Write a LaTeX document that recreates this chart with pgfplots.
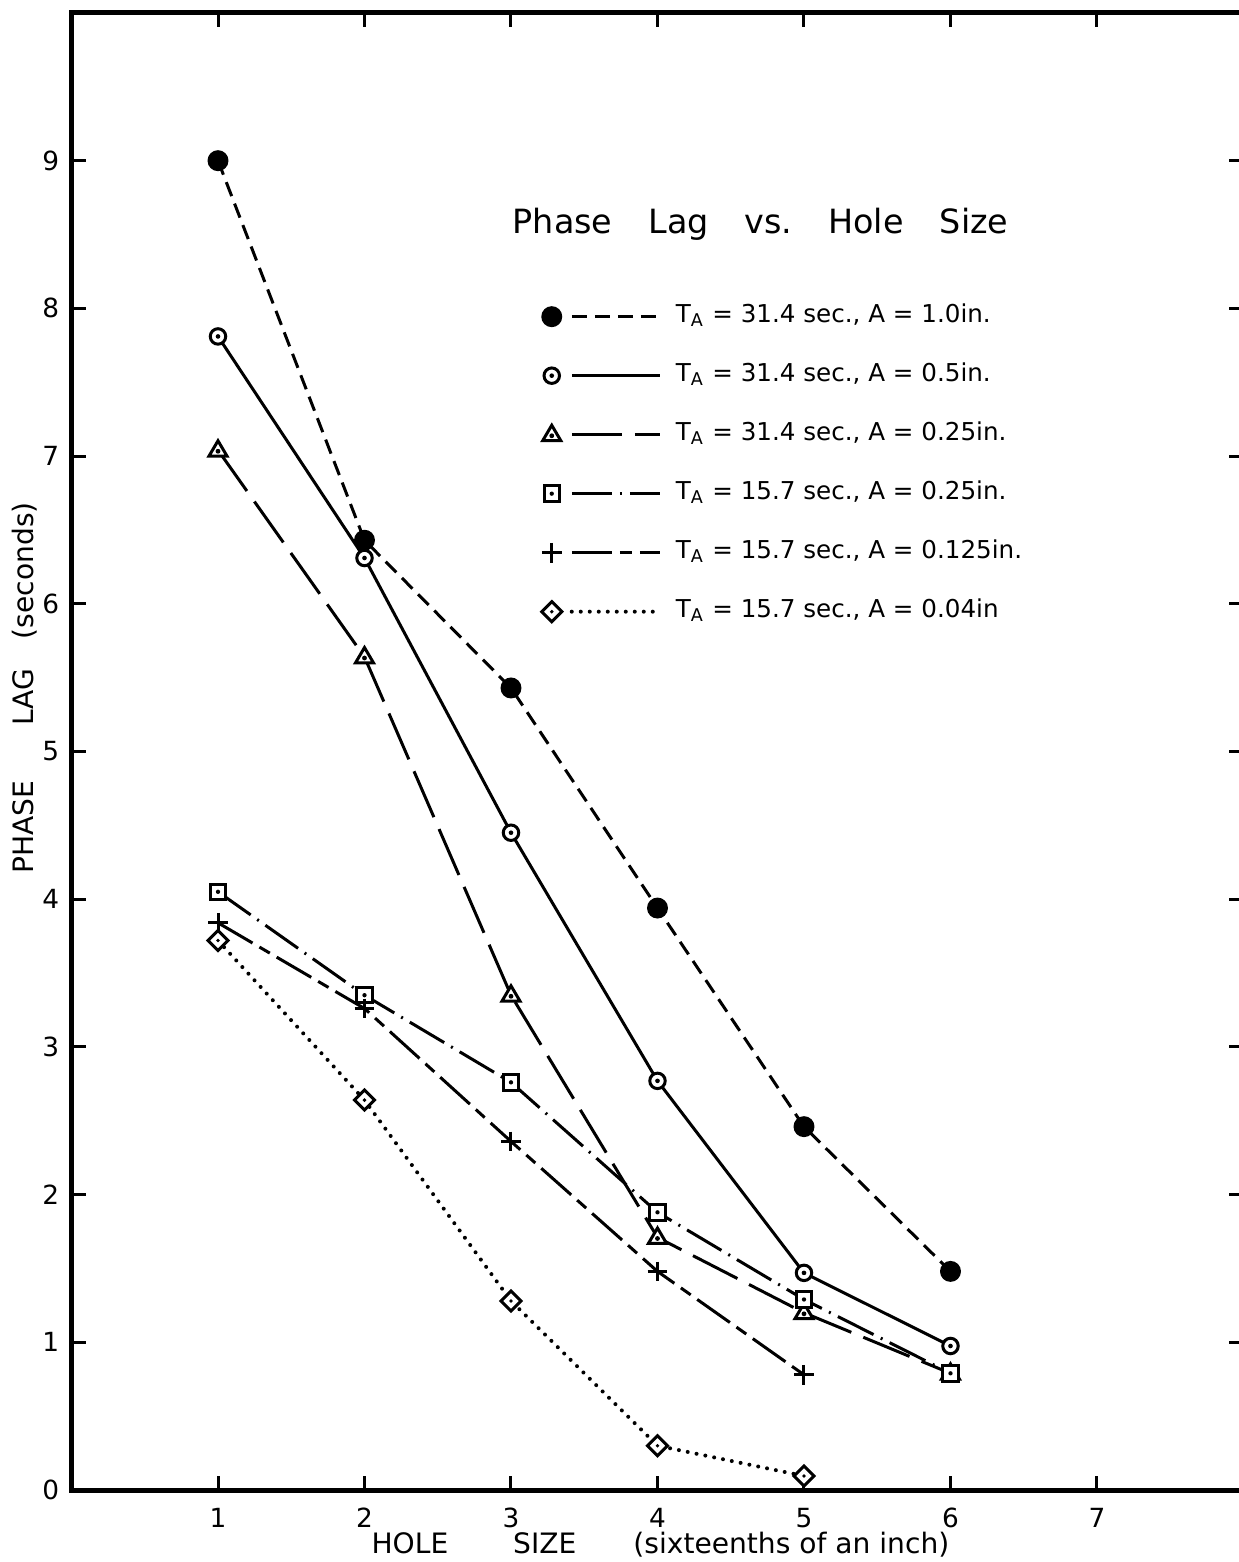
\documentclass[border=0pt]{standalone}
\usepackage{pgfplots}
\pgfplotsset{compat=1.18}
\usepackage{fontspec}
\setmainfont{DejaVu Sans}
\setsansfont{DejaVu Sans}

\pgfdeclareplotmark{cdot}{%
  \pgfpathcircle{\pgfpointorigin}{\pgfplotmarksize}%
  \pgfusepathqfillstroke
  \begin{pgfscope}\pgfsetfillcolor{black}%
  \pgfpathcircle{\pgfpointorigin}{0.3\pgfplotmarksize}%
  \pgfusepathqfill\end{pgfscope}}
\pgfdeclareplotmark{tdot}{%
  \pgfpathmoveto{\pgfpoint{0pt}{1.05\pgfplotmarksize}}%
  \pgfpathlineto{\pgfpoint{-1\pgfplotmarksize}{-0.65\pgfplotmarksize}}%
  \pgfpathlineto{\pgfpoint{1\pgfplotmarksize}{-0.65\pgfplotmarksize}}%
  \pgfpathclose
  \pgfusepathqfillstroke
  \begin{pgfscope}\pgfsetfillcolor{black}%
  \pgfpathcircle{\pgfpoint{0pt}{-0.12\pgfplotmarksize}}{0.27\pgfplotmarksize}%
  \pgfusepathqfill\end{pgfscope}}
\pgfdeclareplotmark{sdot}{%
  \pgfpathrectanglecorners{\pgfpoint{-\pgfplotmarksize}{-\pgfplotmarksize}}{\pgfpoint{\pgfplotmarksize}{\pgfplotmarksize}}%
  \pgfusepathqfillstroke
  \begin{pgfscope}\pgfsetfillcolor{black}%
  \pgfpathcircle{\pgfpointorigin}{0.28\pgfplotmarksize}%
  \pgfusepathqfill\end{pgfscope}}
\pgfdeclareplotmark{ddot}{%
  \pgfpathmoveto{\pgfpoint{0pt}{1.3\pgfplotmarksize}}%
  \pgfpathlineto{\pgfpoint{1.3\pgfplotmarksize}{0pt}}%
  \pgfpathlineto{\pgfpoint{0pt}{-1.3\pgfplotmarksize}}%
  \pgfpathlineto{\pgfpoint{-1.3\pgfplotmarksize}{0pt}}%
  \pgfpathclose
  \pgfusepathqfillstroke
  \begin{pgfscope}\pgfsetfillcolor{black}%
  \pgfpathcircle{\pgfpointorigin}{0.25\pgfplotmarksize}%
  \pgfusepathqfill\end{pgfscope}}

\begin{document}
\begin{tikzpicture}
\begin{axis}[
  scale only axis, width=117.2mm, height=147.7mm,
  at={(0,0)}, anchor=south west,
  xmin=0, xmax=8, ymin=0, ymax=10,
  xtick={1,...,7}, ytick={0,...,9},
  tick align=inside, major tick length=1.4mm,
  every tick/.style={black, line width=0.3mm},
  axis line style={line width=0.5mm},
  ticklabel style={font=\fontsize{7.5}{9}\selectfont},
  /pgf/number format/assume math mode=true,
  xticklabel style={yshift=-0.6mm},
  clip=false,
  xlabel={HOLE\hspace{6.5mm}SIZE\hspace{5.7mm}(sixteenths of an inch)},
  xlabel style={at={(axis description cs:0.5025,0)}, anchor=center, yshift=-5.5mm, font=\fontsize{8}{9.6}\selectfont, inner sep=0pt},
  ylabel={PHASE\hspace{5.5mm}LAG\hspace{3mm}(seconds)},
  ylabel style={at={(axis description cs:-0.0397,0.543)}, anchor=center, font=\fontsize{8}{9.6}\selectfont, inner sep=0pt},
  legend style={at={(axis description cs:0.4006,0.804)}, anchor=north west, draw=none, fill=none, inner sep=0pt,
    column sep=1.4mm, row sep=3.2mm, font=\fontsize{7}{8.4}\selectfont,
    nodes={inner sep=0pt, text height=1.9mm, text depth=0.8mm}},
  legend cell align=left,
  legend image code/.code={%
    \draw[#1,mark=none] (2mm,0mm) -- (10.8mm,0mm);
    \draw[#1,solid] plot coordinates {(0mm,0mm)};
  },
  every axis plot/.append style={line width=0.3mm},
]
% T_A = 31.4 s, A = 1.0 in
\addplot[black, dash pattern=on 1.5mm off 0.8mm, mark=*, mark size=2.55pt, mark options={solid, fill=black}]
  coordinates {(1,9.0) (2,6.43) (3,5.43) (4,3.94) (5,2.46) (6,1.48)};
\addlegendentry{T\textsubscript{A} = 31.4 sec., A = 1.0in.}
% T_A = 31.4 s, A = 0.5 in
\addplot[black, solid, mark=cdot, mark size=2.2pt, mark options={solid, fill=white}]
  coordinates {(1,7.81) (2,6.31) (3,4.45) (4,2.77) (5,1.47) (6,0.975)};
\addlegendentry{T\textsubscript{A} = 31.4 sec., A = 0.5in.}
% T_A = 31.4 s, A = 0.25 in
\addplot[black, dash pattern=on 5mm off 1.3mm, mark=tdot, mark size=2.55pt, mark options={solid, fill=white}]
  coordinates {(1,7.04) (2,5.64) (3,3.35) (4,1.71) (5,1.20) (6,0.79)};
\addlegendentry{T\textsubscript{A} = 31.4 sec., A = 0.25in.}
% T_A = 15.7 s, A = 0.25 in
\addplot[black, dash pattern=on 4mm off 0.8mm on 0.2mm off 0.8mm, mark=sdot, mark size=2.2pt, mark options={solid, fill=white}]
  coordinates {(1,4.05) (2,3.35) (3,2.76) (4,1.88) (5,1.29) (6,0.79)};
\addlegendentry{T\textsubscript{A} = 15.7 sec., A = 0.25in.}
% T_A = 15.7 s, A = 0.125 in
\addplot[black, dash pattern=on 4mm off 0.8mm on 1.2mm off 0.8mm, mark=+, mark size=2.8pt, mark options={solid}]
  coordinates {(1,3.84) (2,3.26) (3,2.36) (4,1.48) (5,0.78)};
\addlegendentry{T\textsubscript{A} = 15.7 sec., A = 0.125in.}
% T_A = 15.7 s, A = 0.04 in
\addplot[black, line width=0.4mm, line cap=round, dash pattern=on 0pt off 0.9mm, mark=ddot, mark size=2.2pt, mark options={solid, fill=white, line width=0.3mm}]
  coordinates {(1,3.72) (2,2.64) (3,1.28) (4,0.30) (5,0.095)};
\addlegendentry{T\textsubscript{A} = 15.7 sec., A = 0.04in}
\node[anchor=base west, inner sep=0pt, font=\fontsize{9.5}{11}\selectfont] at (axis cs:3.007,8.51)
  {Phase\hspace{3.6mm}Lag\hspace{3.6mm}vs.\hspace{3.6mm}Hole\hspace{3.6mm}Size};
\end{axis}
\pgfresetboundingbox
\path (-7.15mm,-7.2mm) rectangle (116.65mm,149.0mm);
\end{tikzpicture}
\end{document}
